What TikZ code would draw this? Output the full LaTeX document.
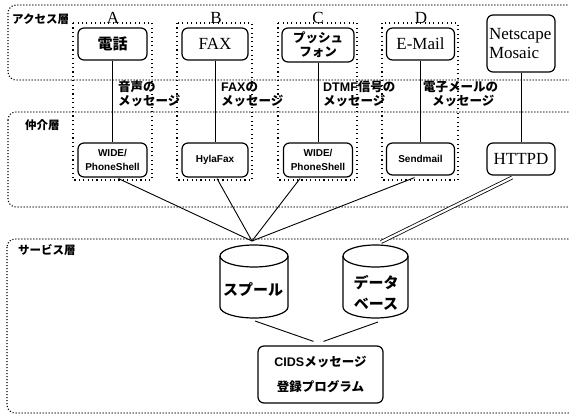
\documentclass[tikz,border=0pt]{standalone}
\usepackage{fontspec}
\setmainfont{Liberation Serif}
\newfontfamily\jp{Noto Sans CJK JP}
\newfontfamily\ssf{Liberation Sans}
\usetikzlibrary{calc}
\begin{document}
\begin{tikzpicture}[x=1pt,y=-1pt,
  layer/.style={draw, line width=1.1pt, dash pattern=on 1.1pt off 1.9pt, rounded corners=8pt},
  col/.style={draw, line width=1.1pt, dash pattern=on 1.1pt off 3.3pt},
  box/.style={draw, line width=1.2pt, rounded corners=6pt, inner sep=0pt, align=center},
  conn/.style={line width=0.9pt},
  big/.style={font=\fontsize{17}{19}\selectfont},
  small/.style={font=\ssf\bfseries\fontsize{10}{13.5}\selectfont},
  jpl/.style={font=\jp\bfseries\fontsize{12.5}{14}\selectfont, anchor=west, inner sep=0pt},
  layerlabel/.style={font=\jp\bfseries\fontsize{11.5}{13}\selectfont, anchor=west, inner sep=0pt},
  collabel/.style={font=\fontsize{17}{19}\selectfont, anchor=base, inner sep=0pt},
  cyl/.style={draw, line width=1.2pt}
]
\useasboundingbox (0,0) rectangle (569,415);
\clip (0,0) rectangle (569,415);

% layers
\draw[layer] (8,5) rectangle (600,80);
\draw[layer] (8,112) rectangle (600,207);
\draw[layer] (7,239) rectangle (600,413);
\node[layerlabel] (lacc) at (12,19) {アクセス層};
\node[layerlabel] (lmid) at (25,125) {仲介層};
\node[layerlabel] (lsrv) at (18,250) {サービス層};

% column frames
\draw[col] (73,23) rectangle (152,180);
\draw[col] (177,23) rectangle (252,180);
\draw[col] (278,23) rectangle (357,180);
\draw[col] (382,23) rectangle (458,180);
\node[collabel] (la) at (113,23.5) {A};
\node[collabel] (lb) at (216,23.5) {B};
\node[collabel] (lc) at (318,23.5) {C};
\node[collabel] (ld) at (421,23.5) {D};

% access boxes
\node[box, minimum width=69pt, minimum height=32pt, font=\jp\bfseries\fontsize{15}{17}\selectfont] (tel) at (112.5,44) {電話};
\node[box, minimum width=66pt, minimum height=32pt, big] (fax) at (215,44) {FAX};
\node[box, minimum width=72pt, minimum height=34pt, font=\jp\bfseries\fontsize{12.5}{14}\selectfont] (push) at (318,45) {プッシュ\\フォン};
\node[box, minimum width=68pt, minimum height=32pt, big] (email) at (420.5,44) {E-Mail};
\node[box, minimum width=68pt, minimum height=57pt, big, align=left, text width=64pt, inner xsep=2pt] (ns) at (521,43.5) {Netscape\\Mosaic};

% intermediary boxes
\node[box, minimum width=69pt, minimum height=34pt, small] (wa) at (112.5,160) {WIDE/\\PhoneShell};
\node[box, minimum width=66pt, minimum height=34pt, small] (hyla) at (215,160) {HylaFax};
\node[box, minimum width=69pt, minimum height=34pt, small] (wc) at (318,160) {WIDE/\\PhoneShell};
\node[box, minimum width=68pt, minimum height=32pt, small] (send) at (420.5,159) {Sendmail};
\node[box, minimum width=68pt, minimum height=32pt, big] (httpd) at (521,159) {HTTPD};

% vertical connectors
\draw[conn] (tel) -- (wa);
\draw[conn] (fax) -- (hyla);
\draw[conn] (push) -- (wc);
\draw[conn] (email) -- (send);
\draw[conn] (ns) -- (httpd);

% message labels
\node[jpl] (ma1) at (118,87) {音声の};
\node[jpl] (ma2) at (118,101) {メッセージ};
\node[jpl] (mb1) at (221,87) {{\ssf FAX}の};
\node[jpl] (mb2) at (221,101) {メッセージ};
\node[jpl] (mc1) at (323,87) {{\ssf DTMF}信号の};
\node[jpl] (mc2) at (323,101) {メッセージ};
\node[jpl] (md1) at (423,87) {電子メールの};
\node[jpl] (md2) at (432,101) {メッセージ};

% cylinders
\draw[cyl] (220,256) -- (220,307) arc[start angle=180, end angle=360, x radius=34pt, y radius=11pt] -- (288,256);
\draw[cyl] (254,256) ellipse [x radius=34pt, y radius=11pt];
\draw[cyl] (343,256) -- (343,307) arc[start angle=180, end angle=360, x radius=32.5pt, y radius=11pt] -- (408,256);
\draw[cyl] (375.5,256) ellipse [x radius=32.5pt, y radius=11pt];
\node[font=\jp\bfseries\fontsize{15}{17}\selectfont, inner sep=0pt] (spool) at (253,290) {スプール};
\node[font=\jp\bfseries\fontsize{15}{21}\selectfont, inner sep=0pt, align=center] (db) at (376,293) {データ\\ベース};
\coordinate (sptop) at (252,241);
\coordinate (dbtop) at (381,242);
\coordinate (spbot) at (255,321);
\coordinate (dbbot) at (378,322);

% CIDS box
\node[box, minimum width=125pt, minimum height=57pt, font=\jp\bfseries\fontsize{12.5}{25}\selectfont] (cids) at (320.5,374.5) {{\ssf CIDS}メッセージ\\登録プログラム};
\coordinate (cin1) at ($(cids.north)+(-7,-4)$);
\coordinate (cin2) at ($(cids.north)+(3,-4)$);

% connectors to service layer
\draw[conn] ($(wa.south)+(6,1)$) -- (sptop);
\draw[conn] ($(hyla.south)+(2,1)$) -- (sptop);
\draw[conn] ($(wc.south)+(-18,1)$) -- (sptop);
\draw[conn] ($(send.south)+(-6,2)$) -- (sptop);
\draw[line width=0.8pt, double, double distance=2.2pt] ($(httpd.south)+(-9,2)$) -- (dbtop);
\draw[conn] (spbot) -- (cin1);
\draw[conn] (dbbot) -- (cin2);
\end{tikzpicture}
\end{document}
